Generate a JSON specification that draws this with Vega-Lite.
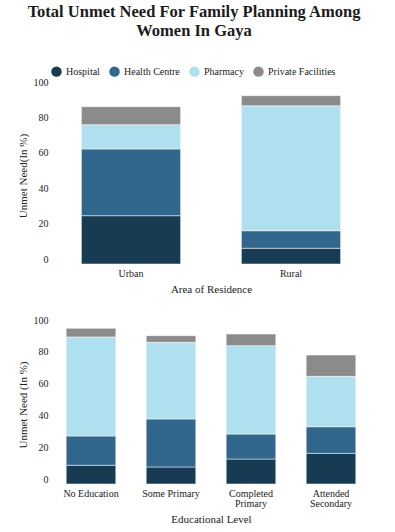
{
  "$schema": "https://vega.github.io/schema/vega-lite/v6.json",
  "padding": {"left": 17, "top": 3, "right": 5, "bottom": 5},
  "title": {
    "text": ["Total Unmet Need For Family Planning Among", "Women In Gaya"],
    "font": "Liberation Serif",
    "fontSize": 16.5,
    "fontWeight": "bold",
    "color": "#1c1c1c",
    "lineHeight": 19,
    "anchor": "middle",
    "offset": 27
  },
  "datasets": {
    "residence": [
      {"Residence": "Urban", "Facility": "Hospital", "Value": 27.3},
      {"Residence": "Urban", "Facility": "Health Centre", "Value": 37.7},
      {"Residence": "Urban", "Facility": "Pharmacy", "Value": 13.7},
      {"Residence": "Urban", "Facility": "Private Facilities", "Value": 10.2},
      {"Residence": "Rural", "Facility": "Hospital", "Value": 8.9},
      {"Residence": "Rural", "Facility": "Health Centre", "Value": 9.9},
      {"Residence": "Rural", "Facility": "Pharmacy", "Value": 70.6},
      {"Residence": "Rural", "Facility": "Private Facilities", "Value": 5.7}
    ],
    "education": [
      {"Education": "No Education", "Facility": "Hospital", "Value": 11.8},
      {"Education": "No Education", "Facility": "Health Centre", "Value": 18.4},
      {"Education": "No Education", "Facility": "Pharmacy", "Value": 62.3},
      {"Education": "No Education", "Facility": "Private Facilities", "Value": 5.4},
      {"Education": "Some Primary", "Facility": "Hospital", "Value": 10.7},
      {"Education": "Some Primary", "Facility": "Health Centre", "Value": 30.2},
      {"Education": "Some Primary", "Facility": "Pharmacy", "Value": 48.2},
      {"Education": "Some Primary", "Facility": "Private Facilities", "Value": 4.2},
      {"Education": "Completed Primary", "Facility": "Hospital", "Value": 15.7},
      {"Education": "Completed Primary", "Facility": "Health Centre", "Value": 15.7},
      {"Education": "Completed Primary", "Facility": "Pharmacy", "Value": 55.6},
      {"Education": "Completed Primary", "Facility": "Private Facilities", "Value": 7.3},
      {"Education": "Attended Secondary", "Facility": "Hospital", "Value": 19.3},
      {"Education": "Attended Secondary", "Facility": "Health Centre", "Value": 16.7},
      {"Education": "Attended Secondary", "Facility": "Pharmacy", "Value": 31.7},
      {"Education": "Attended Secondary", "Facility": "Private Facilities", "Value": 13.4}
    ]
  },
  "spacing": 21,
  "vconcat": [
    {
      "data": {"name": "residence"},
      "width": 320,
      "height": 177,
      "transform": [
        {"calculate": "indexof(['Hospital','Health Centre','Pharmacy','Private Facilities'], datum.Facility)", "as": "stackOrder"}
      ],
      "mark": {"type": "bar", "stroke": "#ffffff", "strokeWidth": 0.5},
      "encoding": {
        "x": {
          "field": "Residence",
          "type": "nominal",
          "sort": ["Urban", "Rural"],
          "title": "Area of Residence",
          "scale": {"paddingInner": 0.38, "paddingOuter": 0.19}
        },
        "y": {
          "field": "Value",
          "type": "quantitative",
          "aggregate": "sum",
          "stack": "zero",
          "title": "Unmet Need(In %)",
          "scale": {"domain": [0, 100]},
          "axis": {"values": [0, 20, 40, 60, 80, 100]}
        },
        "color": {
          "field": "Facility",
          "type": "nominal",
          "scale": {
            "domain": ["Hospital", "Health Centre", "Pharmacy", "Private Facilities"],
            "range": ["#173b53", "#31678d", "#aee0f0", "#8b8b8b"]
          },
          "legend": {
            "title": null,
            "orient": "top",
            "direction": "horizontal",
            "symbolType": "circle",
            "symbolSize": 110,
            "symbolStrokeWidth": 0,
            "labelFont": "Liberation Serif",
            "labelFontSize": 10,
            "labelColor": "#222222",
            "columnPadding": 9,
            "offset": 0
          }
        },
        "order": {"field": "stackOrder", "type": "quantitative", "sort": "ascending"}
      }
    },
    {
      "data": {"name": "education"},
      "width": 320,
      "height": 159,
      "transform": [
        {"calculate": "indexof(['Hospital','Health Centre','Pharmacy','Private Facilities'], datum.Facility)", "as": "stackOrder"}
      ],
      "mark": {"type": "bar", "stroke": "#ffffff", "strokeWidth": 0.5},
      "encoding": {
        "x": {
          "field": "Education",
          "type": "nominal",
          "sort": ["No Education", "Some Primary", "Completed Primary", "Attended Secondary"],
          "title": "Educational Level",
          "scale": {"paddingInner": 0.38, "paddingOuter": 0.19},
          "axis": {"labelExpr": "length(datum.label) > 12 ? split(datum.label, ' ') : datum.label", "labelLineHeight": 10}
        },
        "y": {
          "field": "Value",
          "type": "quantitative",
          "aggregate": "sum",
          "stack": "zero",
          "title": "Unmet Need (In %)",
          "scale": {"domain": [0, 100]},
          "axis": {"values": [0, 20, 40, 60, 80, 100]}
        },
        "color": {
          "field": "Facility",
          "type": "nominal",
          "scale": {
            "domain": ["Hospital", "Health Centre", "Pharmacy", "Private Facilities"],
            "range": ["#173b53", "#31678d", "#aee0f0", "#8b8b8b"]
          }
        },
        "order": {"field": "stackOrder", "type": "quantitative", "sort": "ascending"}
      }
    }
  ],
  "config": {
    "view": {"stroke": null},
    "axis": {
      "grid": false,
      "domain": false,
      "ticks": false,
      "labelFont": "Liberation Serif",
      "labelFontSize": 10,
      "labelColor": "#222222",
      "titleFont": "Liberation Serif",
      "titleFontSize": 11,
      "titleFontWeight": "normal",
      "titleColor": "#222222"
    },
    "axisX": {"labelAngle": 0, "labelPadding": 4, "titlePadding": 5},
    "axisY": {"labelPadding": 3, "titlePadding": 5, "labelOffset": -5}
  }
}
